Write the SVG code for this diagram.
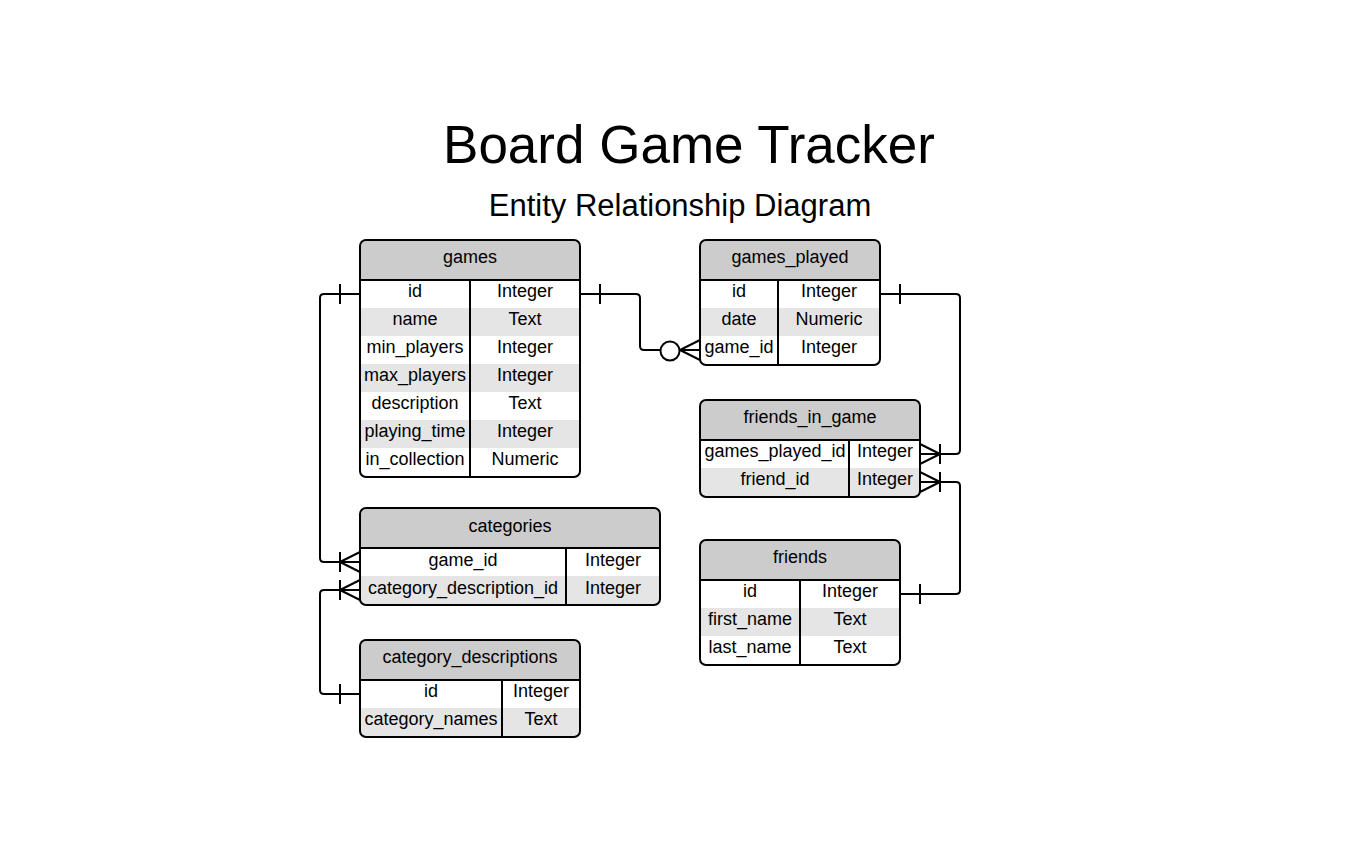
<svg xmlns="http://www.w3.org/2000/svg" width="1360" height="867" viewBox="0 0 1360 867">
<style>
.t{font-family:"Liberation Sans",Arial,sans-serif;font-size:18px;fill:#000;text-anchor:middle}
.title{font-family:"Liberation Sans",Arial,sans-serif;fill:#000;text-anchor:middle}
.hdr{fill:#cccccc}
.alt{fill:#e5e5e5}
.ln{stroke:#000;stroke-width:2;fill:none}
.box{stroke:#000;stroke-width:2;fill:none}
.c{stroke:#000;stroke-width:2;fill:none;stroke-linejoin:round}
</style>
<defs>
<clipPath id="cg"><rect x="360" y="240" width="220" height="237" rx="6"/></clipPath>
<clipPath id="cgp"><rect x="700" y="240" width="180" height="125" rx="6"/></clipPath>
<clipPath id="cfig"><rect x="700" y="400" width="220" height="97" rx="6"/></clipPath>
<clipPath id="cc"><rect x="360" y="508" width="300" height="97" rx="6"/></clipPath>
<clipPath id="ccd"><rect x="360" y="640" width="220" height="97" rx="6"/></clipPath>
<clipPath id="cf"><rect x="700" y="540" width="200" height="125" rx="6"/></clipPath>
</defs>
<rect width="1360" height="867" fill="#fff"/>
<text class="title" x="689" y="163" font-size="53">Board Game Tracker</text>
<text class="title" x="680" y="216" font-size="31">Entity Relationship Diagram</text>

<g id="games">
<g clip-path="url(#cg)">
<rect x="360" y="240" width="220" height="237" fill="#fff"/>
<rect class="hdr" x="360" y="240" width="220" height="40"/>
<rect class="alt" x="360" y="308" width="220" height="28"/>
<rect class="alt" x="360" y="364" width="220" height="28"/>
<rect class="alt" x="360" y="420" width="220" height="28"/>
</g>
<line class="ln" x1="360" y1="280" x2="580" y2="280"/>
<line class="ln" x1="470" y1="280" x2="470" y2="477"/>
<rect class="box" x="360" y="240" width="220" height="237" rx="6"/>
<text class="t" x="470" y="263">games</text>
<text class="t" x="415" y="297">id</text><text class="t" x="525" y="297">Integer</text>
<text class="t" x="415" y="325">name</text><text class="t" x="525" y="325">Text</text>
<text class="t" x="415" y="353">min_players</text><text class="t" x="525" y="353">Integer</text>
<text class="t" x="415" y="381">max_players</text><text class="t" x="525" y="381">Integer</text>
<text class="t" x="415" y="409">description</text><text class="t" x="525" y="409">Text</text>
<text class="t" x="415" y="437">playing_time</text><text class="t" x="525" y="437">Integer</text>
<text class="t" x="415" y="465">in_collection</text><text class="t" x="525" y="465">Numeric</text>
</g>

<g id="games_played">
<g clip-path="url(#cgp)">
<rect x="700" y="240" width="180" height="125" fill="#fff"/>
<rect class="hdr" x="700" y="240" width="180" height="40"/>
<rect class="alt" x="700" y="308" width="180" height="28"/>
</g>
<line class="ln" x1="700" y1="280" x2="880" y2="280"/>
<line class="ln" x1="778" y1="280" x2="778" y2="365"/>
<rect class="box" x="700" y="240" width="180" height="125" rx="6"/>
<text class="t" x="790" y="263">games_played</text>
<text class="t" x="739" y="297">id</text><text class="t" x="829" y="297">Integer</text>
<text class="t" x="739" y="325">date</text><text class="t" x="829" y="325">Numeric</text>
<text class="t" x="739" y="353">game_id</text><text class="t" x="829" y="353">Integer</text>
</g>

<g id="friends_in_game">
<g clip-path="url(#cfig)">
<rect x="700" y="400" width="220" height="97" fill="#fff"/>
<rect class="hdr" x="700" y="400" width="220" height="40"/>
<rect class="alt" x="700" y="468" width="220" height="29"/>
</g>
<line class="ln" x1="700" y1="440" x2="920" y2="440"/>
<line class="ln" x1="849" y1="440" x2="849" y2="497"/>
<rect class="box" x="700" y="400" width="220" height="97" rx="6"/>
<text class="t" x="810" y="423">friends_in_game</text>
<text class="t" x="775" y="457">games_played_id</text><text class="t" x="885" y="457">Integer</text>
<text class="t" x="775" y="485">friend_id</text><text class="t" x="885" y="485">Integer</text>
</g>

<g id="categories">
<g clip-path="url(#cc)">
<rect x="360" y="508" width="300" height="97" fill="#fff"/>
<rect class="hdr" x="360" y="508" width="300" height="40"/>
<rect class="alt" x="360" y="576" width="300" height="29"/>
</g>
<line class="ln" x1="360" y1="548" x2="660" y2="548"/>
<line class="ln" x1="566" y1="548" x2="566" y2="605"/>
<rect class="box" x="360" y="508" width="300" height="97" rx="6"/>
<text class="t" x="510" y="532">categories</text>
<text class="t" x="463" y="566">game_id</text><text class="t" x="613" y="566">Integer</text>
<text class="t" x="463" y="594">category_description_id</text><text class="t" x="613" y="594">Integer</text>
</g>

<g id="category_descriptions">
<g clip-path="url(#ccd)">
<rect x="360" y="640" width="220" height="97" fill="#fff"/>
<rect class="hdr" x="360" y="640" width="220" height="40"/>
<rect class="alt" x="360" y="708" width="220" height="29"/>
</g>
<line class="ln" x1="360" y1="680" x2="580" y2="680"/>
<line class="ln" x1="502" y1="680" x2="502" y2="737"/>
<rect class="box" x="360" y="640" width="220" height="97" rx="6"/>
<text class="t" x="470" y="663">category_descriptions</text>
<text class="t" x="431" y="697">id</text><text class="t" x="541" y="697">Integer</text>
<text class="t" x="431" y="725">category_names</text><text class="t" x="541" y="725">Text</text>
</g>

<g id="friends">
<g clip-path="url(#cf)">
<rect x="700" y="540" width="200" height="125" fill="#fff"/>
<rect class="hdr" x="700" y="540" width="200" height="40"/>
<rect class="alt" x="700" y="608" width="200" height="28"/>
</g>
<line class="ln" x1="700" y1="580" x2="900" y2="580"/>
<line class="ln" x1="800" y1="580" x2="800" y2="665"/>
<rect class="box" x="700" y="540" width="200" height="125" rx="6"/>
<text class="t" x="800" y="563">friends</text>
<text class="t" x="750" y="597">id</text><text class="t" x="850" y="597">Integer</text>
<text class="t" x="750" y="625">first_name</text><text class="t" x="850" y="625">Text</text>
<text class="t" x="750" y="653">last_name</text><text class="t" x="850" y="653">Text</text>
</g>

<g id="connectors">
<path class="c" d="M360 294 H324 Q320 294 320 298 V558 Q320 562 324 562 H360"/>
<path class="c" d="M340 284 V304"/>
<path class="c" d="M340 552 V572 M360 552 L340 562 L360 572"/>
<path class="c" d="M360 590 H324 Q320 590 320 594 V690 Q320 694 324 694 H360"/>
<path class="c" d="M340 580 V600 M360 580 L340 590 L360 600"/>
<path class="c" d="M340 684 V704"/>
<path class="c" d="M580 294 H636 Q640 294 640 298 V346 Q640 350 644 350 H660"/>
<path class="c" d="M600 284 V304"/>
<circle class="c" cx="670" cy="351" r="9.5" fill="#fff"/>
<path class="c" d="M680 350 H700 M700 340 L680 350 L700 360"/>
<path class="c" d="M880 294 H956 Q960 294 960 298 V450 Q960 454 956 454 H920"/>
<path class="c" d="M900 284 V304"/>
<path class="c" d="M940 444 V464 M920 444 L940 454 L920 464"/>
<path class="c" d="M920 482 H956 Q960 482 960 486 V590 Q960 594 956 594 H900"/>
<path class="c" d="M940 472 V492 M920 472 L940 482 L920 492"/>
<path class="c" d="M920 584 V604"/>
</g>
</svg>
